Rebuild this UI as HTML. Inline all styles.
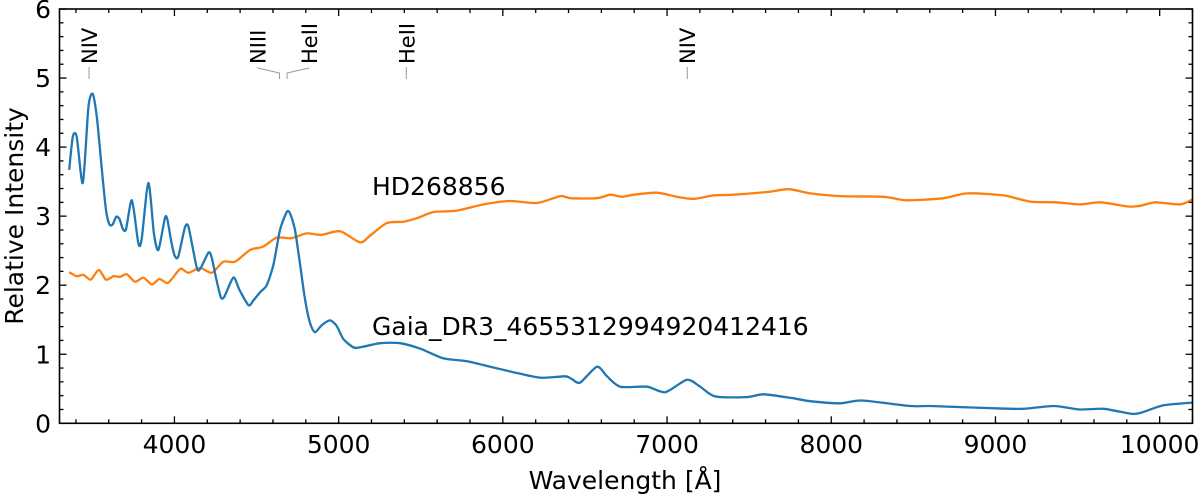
<!DOCTYPE html>
<html><head><meta charset="utf-8"><style>
html,body{margin:0;padding:0;background:#fff;}
svg{display:block;font-family:"DejaVu Sans","Liberation Sans",sans-serif;}
</style></head><body>
<svg id="chart" width="1200" height="496" viewBox="0 0 1200 496"></svg>
<script>
const xTicks=[4000,5000,6000,7000,8000,9000,10000];
const yTicks=[0,1,2,3,4,5,6];
const gaiaW=[3359,3381,3405,3442,3476,3502,3527,3557,3583,3604,3624,3645,3665,3685,3705,3741,3780,3800,3841,3875,3902,3942,3957,3983,4003,4024,4064,4085,4115,4146,4207,4227,4254,4282,4303,4359,4396,4451,4481,4522,4562,4603,4643,4684,4704,4734,4765,4795,4826,4856,4897,4947,4988,5029,5090,5131,5253,5375,5497,5639,5781,5923,6065,6228,6380,6420,6471,6573,6634,6715,6878,6989,7121,7202,7293,7486,7588,7750,7872,8055,8187,8481,8603,8968,9171,9354,9516,9659,9821,9882,10024,10197];
const gaiaV=[3.67,4.15,4.15,3.48,4.58,4.77,4.44,3.7,3.09,2.88,2.88,2.99,2.96,2.82,2.81,3.23,2.61,2.66,3.48,2.75,2.51,2.97,2.95,2.6,2.42,2.42,2.84,2.85,2.5,2.21,2.47,2.4,2.1,1.83,1.83,2.11,1.93,1.71,1.78,1.9,2.0,2.3,2.8,3.06,3.04,2.8,2.3,1.8,1.45,1.32,1.42,1.49,1.41,1.22,1.1,1.1,1.16,1.16,1.08,0.94,0.9,0.82,0.74,0.66,0.68,0.64,0.59,0.82,0.68,0.53,0.53,0.45,0.63,0.53,0.39,0.38,0.42,0.37,0.32,0.29,0.33,0.25,0.25,0.22,0.21,0.25,0.2,0.21,0.14,0.15,0.26,0.3];
const hdW=[3359,3405,3446,3490,3539,3583,3628,3669,3709,3760,3811,3862,3908,3957,3994,4038,4085,4156,4227,4298,4369,4460,4542,4623,4714,4805,4897,5009,5131,5192,5293,5395,5476,5578,5720,5883,6045,6208,6350,6411,6573,6654,6725,6796,6938,7060,7162,7284,7406,7609,7741,7872,8055,8319,8461,8684,8826,9049,9212,9374,9516,9638,9811,9882,9974,10126,10197];
const hdV=[2.19,2.13,2.15,2.08,2.22,2.08,2.13,2.12,2.16,2.05,2.11,2.01,2.09,2.03,2.12,2.24,2.18,2.25,2.18,2.34,2.34,2.51,2.56,2.69,2.68,2.75,2.73,2.78,2.62,2.72,2.9,2.92,2.97,3.06,3.08,3.17,3.22,3.19,3.29,3.26,3.26,3.31,3.28,3.31,3.34,3.28,3.25,3.3,3.31,3.35,3.39,3.33,3.29,3.28,3.23,3.26,3.33,3.3,3.21,3.2,3.17,3.2,3.14,3.15,3.2,3.17,3.24];
const lineNames=["NIV","NIII","HeII","HeII","NIV"];
const lineW=[3480,4640,4686,5412,7123];

const L=59.5,R=1192.5,T=9,B=423.3,XMIN=3300,XMAX=10200,YMIN=0,YMAX=6;
const X=w=>L+(w-XMIN)/(XMAX-XMIN)*(R-L);
const Y=v=>B-(v-YMIN)/(YMAX-YMIN)*(B-T);
const svg=document.getElementById('chart');
const NS='http://www.w3.org/2000/svg';
function mk(tag,attrs,parent){const e=document.createElementNS(NS,tag);for(const k in attrs)e.setAttribute(k,attrs[k]);(parent||svg).appendChild(e);return e;}

const tg=mk('g',{stroke:'#000','stroke-width':1.3});


for(let w=3400;w<=XMAX;w+=200){const maj=w%1000===0;const len=maj?7:4;const x=X(w);
 mk('line',{x1:x,x2:x,y1:B,y2:B-len},tg);mk('line',{x1:x,x2:x,y1:T,y2:T+len},tg);}
for(let i=0;i<=30;i++){const v=i*0.2;const maj=i%5===0;const len=maj?7:4;const y=Y(v);
 mk('line',{x1:L,x2:L+len,y1:y,y2:y},tg);mk('line',{x1:R,x2:R-len,y1:y,y2:y},tg);}
xTicks.forEach(t=>{const e=mk('text',{x:X(t),y:453,'text-anchor':'middle','font-size':25});e.textContent=t;
 
 });
yTicks.forEach(t=>{const e=mk('text',{x:51,y:Y(t)+9,'text-anchor':'end','font-size':25});e.textContent=t;
 
 });

function smoothPath(W,V){const P=W.map((w,i)=>[X(w),Y(V[i])]);let d='M'+P[0][0].toFixed(1)+','+P[0][1].toFixed(1);
 for(let i=0;i<P.length-1;i++){const p0=P[i-1]||P[i],p1=P[i],p2=P[i+1],p3=P[i+2]||p2;const k=1/8;
  const c1=[p1[0]+(p2[0]-p0[0])*k,p1[1]+(p2[1]-p0[1])*k],c2=[p2[0]-(p3[0]-p1[0])*k,p2[1]-(p3[1]-p1[1])*k];
  d+=` C${c1[0].toFixed(1)},${c1[1].toFixed(1)} ${c2[0].toFixed(1)},${c2[1].toFixed(1)} ${p2[0].toFixed(1)},${p2[1].toFixed(1)}`;}
 return d;}
function series(W,V,color,name){
 const e=mk('path',{d:smoothPath(W,V),fill:'none',stroke:color,'stroke-width':2.3,'stroke-linejoin':'round'});
 
 }
series(hdW,hdV,'#ff7f0e','hd268856-spectrum');
series(gaiaW,gaiaV,'#1f77b4','gaia-spectrum');

const fr=mk('rect',{x:L,y:T,width:R-L,height:B-T,fill:'none',stroke:'#000','stroke-width':1.6});



const ag=mk('g',{});


const textX=[X(lineW[0]),X(lineW[1])-22,X(lineW[2])+22,X(lineW[3]),X(lineW[4])];
lineW.forEach((w,i)=>{const x=X(w),tx=textX[i];
 if(tx===x){mk('line',{x1:x,x2:x,y1:67,y2:79,stroke:'#999','stroke-width':1},ag);}
 else{mk('polyline',{points:`${tx},68 ${x},73 ${x},79`,fill:'none',stroke:'#999','stroke-width':1},ag);}
 const t=mk('text',{x:0,y:0,'font-size':21,transform:`translate(${tx+8},64) rotate(-90)`},ag);t.textContent=lineNames[i];
 
 });

const l1=mk('text',{x:372,y:195,'font-size':25});l1.textContent='HD268856';


const l2=mk('text',{x:372,y:335,'font-size':25});l2.textContent='Gaia_DR3_4655312994920412416';


const xl=mk('text',{x:625,y:489,'text-anchor':'middle','font-size':25});xl.textContent='Wavelength [Å]';


const yl=mk('text',{x:0,y:0,'text-anchor':'middle','font-size':25,transform:`translate(23,216) rotate(-90)`});yl.textContent='Relative Intensity';


</script>
</body></html>
